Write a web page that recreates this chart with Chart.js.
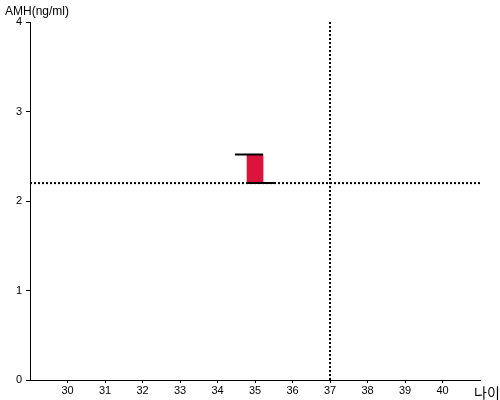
<!DOCTYPE html>
<html>
<head>
<meta charset="utf-8">
<script src="https://cdn.jsdelivr.net/npm/chart.js@4"></script>
<style>
  html, body { margin: 0; padding: 0; background: #fff; }
  #wrap { width: 500px; height: 400px; }
</style>
</head>
<body>
<div id="wrap"><canvas id="amhChart"></canvas></div>
<script>
// data
const ages = [35];
const amhLow = [2.2];
const amhHigh = [2.52];
const refAge = 37;
const refAmh = 2.2;
const xTicks = [30, 31, 32, 33, 34, 35, 36, 37, 38, 39, 40];
const yTicks = [0, 1, 2, 3, 4];

const font = { family: 'Arial, "Liberation Sans", sans-serif', size: 11 };

// black caps on the bar: top one sticks out left, bottom one sticks out right
const capsPlugin = {
  id: 'caps',
  afterDatasetsDraw(chart) {
    const ctx = chart.ctx;
    const meta = chart.getDatasetMeta(0);
    ctx.save();
    ctx.strokeStyle = '#000';
    ctx.lineWidth = 2;
    meta.data.forEach(bar => {
      const half = bar.width / 2;
      const ext = 12;
      const top = Math.min(bar.y, bar.base);
      const bottom = Math.max(bar.y, bar.base);
      ctx.beginPath();
      ctx.moveTo(bar.x - half - ext, top);
      ctx.lineTo(bar.x + half, top);
      ctx.moveTo(bar.x - half, bottom);
      ctx.lineTo(bar.x + half + ext, bottom);
      ctx.stroke();
    });
    ctx.restore();
  }
};

// axis titles (+ make sure the bottom axis line is there)
const labelsPlugin = {
  id: 'axisLabels',
  afterDraw(chart) {
    const ctx = chart.ctx;
    const area = chart.chartArea;
    ctx.save();
    ctx.strokeStyle = '#000';
    ctx.lineWidth = 1;
    ctx.beginPath();
    ctx.moveTo(area.left, Math.round(area.bottom) + 0.5);
    ctx.lineTo(area.right, Math.round(area.bottom) + 0.5);
    ctx.stroke();

    ctx.fillStyle = '#000';
    ctx.font = '12px Arial, "Liberation Sans", sans-serif';
    ctx.textBaseline = 'alphabetic';
    ctx.textAlign = 'left';
    ctx.fillText('AMH(ng/ml)', 5, 15);
    ctx.font = '14px "Noto Sans CJK KR", sans-serif';
    ctx.fillText('나이', 474, 398);
    ctx.restore();
  }
};

new Chart(document.getElementById('amhChart'), {
  data: {
    datasets: [{
      type: 'bar',
      data: ages.map((a, i) => ({ x: a, y: [amhLow[i], amhHigh[i]] })),
      backgroundColor: '#DC143C',
      borderWidth: 0,
      barThickness: 16,
      order: 2
    }, {
      type: 'line',
      data: [{ x: 29, y: refAmh }, { x: 41, y: refAmh }],
      borderColor: '#000',
      borderWidth: 2,
      borderDash: [2, 2],
      pointRadius: 0,
      order: 1
    }, {
      type: 'line',
      data: [{ x: refAge, y: 0 }, { x: refAge, y: 4 }],
      borderColor: '#000',
      borderWidth: 2,
      borderDash: [2, 2],
      pointRadius: 0,
      order: 1
    }]
  },
  options: {
    responsive: true,
    maintainAspectRatio: false,
    animation: false,
    layout: { padding: { top: 22, right: 20, left: 0, bottom: 0 } },
    plugins: {
      legend: { display: false },
      tooltip: { enabled: false }
    },
    scales: {
      x: {
        type: 'linear',
        min: 29,
        max: 41,
        offset: false,
        afterBuildTicks: axis => { axis.ticks = xTicks.map(v => ({ value: v })); },
        afterFit: axis => { axis.height = 20; },
        ticks: { font: font, color: '#000', padding: 1, maxRotation: 0, autoSkip: false },
        grid: { offset: false, drawOnChartArea: false, drawTicks: true, tickLength: 3, color: '#000' },
        border: { display: true, color: '#000', width: 1 }
      },
      y: {
        min: 0,
        max: 4,
        afterBuildTicks: axis => { axis.ticks = yTicks.map(v => ({ value: v })); },
        afterFit: axis => { axis.width = 30; },
        ticks: { font: font, color: '#000', padding: 4 },
        grid: { drawOnChartArea: false, drawTicks: true, tickLength: 4, color: '#000' },
        border: { display: true, color: '#000', width: 1 }
      }
    }
  },
  plugins: [capsPlugin, labelsPlugin]
});
</script>
</body>
</html>
